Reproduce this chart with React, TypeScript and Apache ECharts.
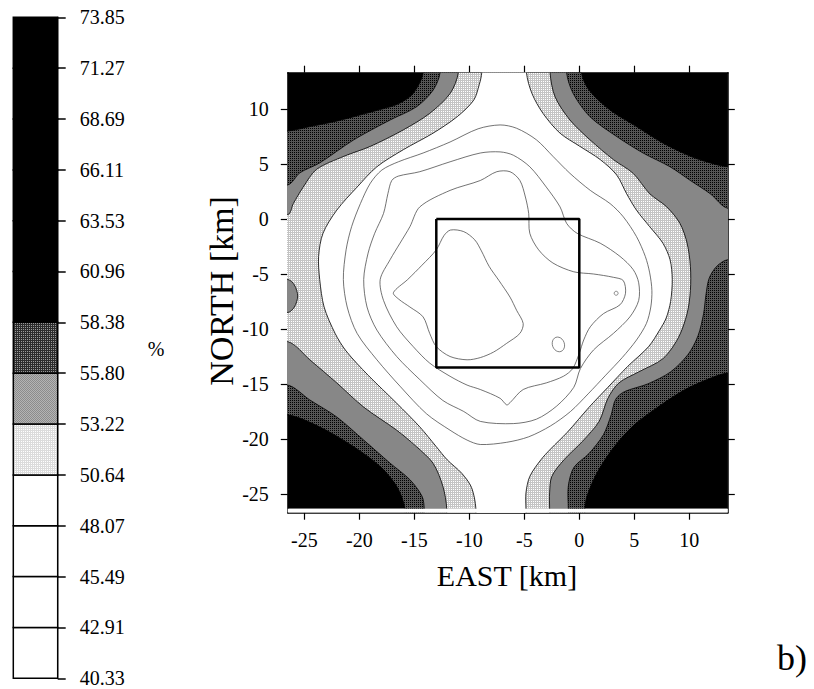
import React, { useEffect, useRef } from "react";
import * as echarts from "echarts";

type P = number[];

// ---------- colour-bar levels (%) ----------
const colorbarLevels = [40.33, 42.91, 45.49, 48.07, 50.64, 53.22, 55.8, 58.38, 60.96, 63.53, 66.11, 68.69, 71.27, 73.85];
// band class for each interval of the bar (0 white, 1 light, 2 gray, 3 dark, 4 black)
const colorbarBandClass = [0, 0, 0, 0, 1, 2, 3, 4, 4, 4, 4, 4, 4];

// ---------- axis ticks (km) ----------
const eastTicks = [-25, -20, -15, -10, -5, 0, 5, 10];
const northTicks = [-25, -20, -15, -10, -5, 0, 5, 10];

// ---------- contour boundaries read from the map (EAST, NORTH km) ----------
// 58.38 % (black / dark)
const c58_TL: P[] = [[-14.2, 13.3], [-14.6, 12.2], [-15.3, 11.2], [-16.6, 10.4], [-18.3, 9.9], [-20.5, 9.3], [-22.5, 8.8], [-24.5, 8.4], [-26.5, 8.0]];
const c58_TR: P[] = [[0.2, 13.3], [0.9, 11.7], [2.8, 9.9], [5.2, 8.4], [7.6, 6.9], [10.1, 5.7], [11.9, 5.1], [13.5, 4.75]];
const c58_BR: P[] = [[13.5, -14.0], [11.6, -14.6], [9.45, -15.6], [7.0, -17.2], [4.9, -18.8], [3.1, -20.8], [1.6, -23.1], [0.7, -25.2], [0.5, -26.35]];
const c58_BL: P[] = [[-15.85, -26.35], [-16.6, -24.3], [-18.1, -22.5], [-20.5, -20.7], [-23.6, -18.9], [-26.5, -17.8]];
// 55.80 % (dark / gray)
const c55_TL: P[] = [[-12.66, 13.3], [-13.3, 11.7], [-14.8, 10.2], [-17.2, 9.0], [-20.5, 7.2], [-23.6, 5.1], [-25.4, 4.2], [-26.5, 3.1]];
const c55_TR: P[] = [[-1.15, 13.3], [-0.55, 11.4], [0.97, 9.3], [3.4, 7.5], [5.8, 6.0], [8.25, 4.75], [10.1, 3.5], [11.9, 2.3], [13.5, 0.97]];
const c55_BR: P[] = [[13.5, -3.7], [12.5, -4.3], [11.8, -5.4], [11.5, -7.0], [11.3, -8.6], [10.8, -10.6], [9.9, -12.3], [8.3, -13.9], [6.2, -15.0], [4.1, -15.7], [3.3, -16.4], [2.9, -17.8], [2.2, -19.6], [0.9, -21.3], [-0.5, -22.6], [-1.0, -24.3], [-1.0, -26.35]];
const c55_BL: P[] = [[-14.1, -26.35], [-14.3, -25.2], [-15.4, -23.7], [-17.2, -22.2], [-19.6, -20.1], [-22.05, -18.0], [-24.5, -16.45], [-26.5, -15.1]];
// 53.22 % (gray / light)
const c53_TL: P[] = [[-11.0, 13.3], [-11.75, 11.4], [-13.6, 9.6], [-16.0, 8.1], [-19.0, 6.6], [-21.4, 5.7], [-23.9, 4.5], [-25.1, 2.9], [-26.0, 1.4], [-26.5, 0.4]];
const c53_R: P[] = [[-2.66, 13.3], [-2.2, 11.1], [-0.85, 9.0], [0.97, 7.2], [3.1, 5.4], [4.9, 4.15], [6.4, 2.3], [7.95, 1.1], [9.15, -0.4], [9.8, -2.2], [10.1, -4.3], [10.1, -6.5], [9.8, -8.6], [9.0, -10.8], [7.6, -12.7], [5.4, -13.9], [3.6, -14.9], [2.6, -16.3], [1.8, -18.4], [0.3, -20.2], [-1.4, -21.9], [-2.5, -23.4], [-2.7, -24.9], [-2.7, -26.35]];
const c53_BL: P[] = [[-12.05, -26.35], [-12.4, -24.3], [-13.3, -22.2], [-14.8, -20.7], [-16.6, -19.2], [-19.6, -17.1], [-22.05, -14.9], [-24.5, -12.8], [-26.5, -11.15]];
const c53_leftBump: P[] = [[-26.5, -5.5], [-25.9, -6.0], [-25.6, -7.0], [-25.9, -8.0], [-26.5, -8.5]];
// 50.64 % (light / white)
const c50_L: P[] = [[-8.87, 13.3], [-9.1, 12.2], [-9.6, 10.8], [-11.1, 9.3], [-13.3, 7.8], [-16.0, 6.3], [-18.4, 4.75], [-20.2, 2.9], [-22.05, 0.8], [-23.3, -1.3], [-23.7, -3.4], [-23.6, -5.5], [-23.2, -8.0], [-22.2, -10.4], [-21.2, -12.0], [-19.2, -14.2], [-16.6, -16.75], [-14.5, -18.9], [-13.0, -20.7], [-12.0, -21.9], [-10.7, -23.1], [-9.8, -24.4], [-9.4, -26.35]];
const c50_R: P[] = [[-4.8, 13.3], [-4.3, 11.4], [-3.3, 9.6], [-1.75, 7.8], [0.06, 6.6], [1.9, 5.4], [3.4, 4.0], [4.3, 2.3], [5.2, 0.8], [6.4, -0.7], [7.6, -2.2], [8.25, -3.7], [8.45, -5.5], [8.3, -7.5], [7.9, -9.0], [7.3, -10.1], [6.3, -11.6], [4.4, -13.4], [2.6, -15.3], [0.9, -17.1], [-1.1, -19.4], [-2.6, -20.9], [-3.5, -21.9], [-4.5, -23.4], [-4.85, -24.9], [-4.85, -26.35]];
// closed iso-lines inside the white area
const c48: P[] = [[-9.2, 8.2], [-7.2, 8.55], [-5.7, 8.25], [-3.9, 7.2], [-2.4, 5.7], [-0.85, 4.15], [1.0, 2.6], [2.8, 1.4], [4.0, 0.2], [5.2, -1.6], [6.0, -3.4], [6.4, -4.9], [6.6, -6.5], [6.5, -8.0], [6.1, -9.5], [5.2, -11.0], [3.9, -12.6], [2.4, -14.2], [0.8, -15.9], [-0.8, -17.5], [-2.6, -18.8], [-4.6, -19.8], [-6.6, -20.3], [-9.0, -20.5], [-10.2, -20.1], [-11.75, -19.2], [-13.9, -17.7], [-16.3, -15.2], [-18.4, -12.8], [-20.2, -10.4], [-21.1, -8.0], [-21.45, -5.5], [-21.2, -2.8], [-20.7, -0.7], [-19.9, 1.4], [-19.0, 3.25], [-17.95, 4.45], [-16.45, 5.2], [-14.2, 6.0], [-11.75, 7.0]];
const c45: P[] = [[-9.0, 6.0], [-7.2, 6.1], [-6.0, 5.8], [-4.5, 4.75], [-3.0, 2.9], [-1.75, 1.1], [-1.15, -0.4], [-0.2, -1.3], [1.9, -2.2], [3.7, -3.4], [4.9, -4.6], [5.4, -5.8], [5.4, -7.4], [4.6, -8.9], [3.1, -10.4], [1.3, -11.9], [0.1, -13.6], [-0.5, -15.3], [-2.05, -17.0], [-3.9, -18.2], [-6.0, -18.6], [-9.0, -18.4], [-10.5, -17.5], [-12.4, -16.5], [-14.5, -14.6], [-16.6, -12.5], [-18.4, -10.1], [-19.3, -8.0], [-19.6, -5.5], [-19.2, -3.1], [-18.6, -1.3], [-17.8, 0.5], [-17.4, 2.3], [-17.05, 3.5], [-16.45, 3.9], [-14.5, 4.3], [-11.75, 5.2]];
const c43: P[] = [[-9.0, 3.5], [-7.5, 4.3], [-6.3, 4.3], [-5.4, 3.5], [-4.9, 2.0], [-4.6, 0.5], [-4.5, -1.3], [-3.7, -2.8], [-2.4, -4.0], [-0.5, -4.8], [1.3, -5.0], [3.1, -5.3], [4.0, -5.6], [4.2, -6.75], [3.7, -7.8], [2.2, -8.6], [1.0, -9.8], [0.4, -11.0], [0.0, -12.2], [-0.6, -13.6], [-1.45, -14.3], [-3.0, -14.9], [-5.1, -15.5], [-6.3, -16.7], [-6.6, -16.9], [-7.2, -16.3], [-9.0, -15.5], [-10.2, -15.1], [-11.75, -14.3], [-13.6, -13.1], [-15.1, -11.6], [-16.6, -9.8], [-17.8, -7.4], [-18.1, -5.5], [-17.2, -3.7], [-16.3, -2.2], [-15.4, -0.7], [-14.5, 1.1], [-11.75, 2.6]];
const c40: P[] = [[-16.9, -6.7], [-15.6, -5.5], [-14.3, -4.2], [-13.0, -2.8], [-12.3, -1.5], [-11.7, -1.0], [-10.5, -1.15], [-9.5, -1.9], [-8.9, -2.9], [-8.2, -4.3], [-7.3, -5.6], [-6.3, -7.1], [-5.7, -8.3], [-5.1, -9.5], [-5.4, -10.4], [-6.6, -11.3], [-7.8, -12.1], [-9.0, -12.6], [-10.2, -12.8], [-11.75, -12.5], [-13.0, -11.6], [-13.6, -10.4], [-14.2, -8.9], [-15.4, -8.0], [-16.4, -7.3]];
const smallLoop: P[] = [[-1.9, -11.4]];
const tinyLoop: P[] = [[3.35, -6.75]];
// study area square
const squareOutline: P[] = [[-13, 0], [0, 0], [0, -13.5], [-13, -13.5], [-13, 0]];

// ---------- styling ----------
const FONT = "Liberation Serif, Times New Roman, serif";
const X_MIN = -26.5, X_MAX = 13.5, Y_MIN = -26.7, Y_MAX = 13.3;
const DATA_BOTTOM = -26.35;
const OUT_T = 17, OUT_B = -31, OUT_L = -31, OUT_R = 18;

const rev = (a: P[]) => a.slice().reverse();
const last = (a: P[]) => a[a.length - 1];
const toTop = (p: P): P => [p[0], OUT_T];
const toBottom = (p: P): P => [p[0], OUT_B];
const toLeft = (p: P): P => [OUT_L, p[1]];
const toRight = (p: P): P => [OUT_R, p[1]];

const below58: P[] = [
  ...rev(c58_TL), toTop(c58_TL[0]), toTop(c58_TR[0]),
  ...c58_TR, toRight(last(c58_TR)), toRight(c58_BR[0]),
  ...c58_BR, toBottom(last(c58_BR)), toBottom(c58_BL[0]),
  ...c58_BL, toLeft(last(c58_BL)), toLeft(last(c58_TL)),
];
const below55: P[] = [
  ...rev(c55_TL), toTop(c55_TL[0]), toTop(c55_TR[0]),
  ...c55_TR, toRight(last(c55_TR)), toRight(c55_BR[0]),
  ...c55_BR, toBottom(last(c55_BR)), toBottom(c55_BL[0]),
  ...c55_BL, toLeft(last(c55_BL)), toLeft(last(c55_TL)),
];
const below53: P[] = [
  ...rev(c53_TL), toTop(c53_TL[0]), toTop(c53_R[0]),
  ...c53_R, toBottom(last(c53_R)), toBottom(c53_BL[0]),
  ...c53_BL, toLeft(last(c53_BL)), toLeft(last(c53_leftBump)),
  ...rev(c53_leftBump), toLeft(c53_leftBump[0]), toLeft(last(c53_TL)),
];
const below50: P[] = [
  ...c50_R, toBottom(last(c50_R)), toBottom(last(c50_L)),
  ...rev(c50_L), toTop(c50_L[0]), toTop(c50_R[0]),
];

// tiny repeating pixel tiles that imitate the dotted shading of the original
function makeTile(rows: string[][]): any {
  const c = document.createElement("canvas");
  const h = rows.length, w = rows[0].length;
  c.width = w; c.height = h;
  const ctx = c.getContext("2d")!;
  rows.forEach((row, y) => row.forEach((col, x) => { ctx.fillStyle = col; ctx.fillRect(x, y, 1, 1); }));
  return { image: c.toDataURL(), repeat: "repeat", imageWidth: w, imageHeight: h };
}

function areaSeries(pts: P[], fill: any, z: number, stroke = "#000", smooth = 0.3, lineWidth = 0.8) {
  return {
    type: "custom",
    xAxisIndex: 0,
    yAxisIndex: 0,
    clip: true,
    silent: true,
    z,
    data: pts,
    renderItem: (params: any, api: any) => {
      if (params.dataIndex !== 0) return { type: "group", children: [] };
      const points = pts.map((p) => api.coord(p));
      return {
        type: "polygon",
        shape: { points, smooth },
        style: { fill, stroke, lineWidth },
      };
    },
  };
}

function rectSeries(x0: number, y0: number, x1: number, y1: number, fill: string, z: number) {
  return {
    type: "custom",
    xAxisIndex: 0,
    yAxisIndex: 0,
    clip: true,
    silent: true,
    z,
    data: [[x0, y0, x1, y1]],
    renderItem: (_p: any, api: any) => {
      const a = api.coord([api.value(0), api.value(3)]);
      const b = api.coord([api.value(2), api.value(1)]);
      return { type: "rect", shape: { x: a[0], y: a[1], width: b[0] - a[0], height: b[1] - a[1] }, style: { fill } };
    },
  };
}

function textEl(text: string, x: number, y: number, size: number, align: string, vAlign: string, rotation = 0) {
  return {
    type: "text", x, y, rotation,
    style: { text, fontFamily: FONT, fontSize: size, fill: "#000", align, verticalAlign: vAlign },
  };
}

export default function App() {
  const ref = useRef<HTMLDivElement>(null);
  useEffect(() => {
    if (!ref.current) return;
    const chart = echarts.init(ref.current, null, { renderer: "svg" });

    const K = "#000000";
    const G = "#555555";
    const darkTile = makeTile([[K, G], [G, G]]);
    const lightTile = makeTile([["#c4c4c4", "#c4c4c4"], ["#c4c4c4", "#ffffff"]]);
    const barDarkTile = makeTile([["#2c2c2c", "#2c2c2c"], ["#2c2c2c", "#9a9a9a"]]);
    const barGrayTile = makeTile([["#8c8c8c", "#b4b4b4"], ["#b4b4b4", "#8c8c8c"]]);
    const barLightTile = makeTile([["#dcdcdc", "#dcdcdc"], ["#dcdcdc", "#ffffff"]]);
    const mapFill: any[] = ["#ffffff", lightTile, "#878787", darkTile, "#000000"];
    const barFill: any[] = ["#ffffff", barLightTile, barGrayTile, barDarkTile, "#000000"];

    const axisLine = { show: true, onZero: false, lineStyle: { color: "#000", width: 1.5 } };
    const tickStyle = { color: "#000", width: 1.2 };
    const labelStyle = { fontSize: 20, fontFamily: FONT, color: "#000" };

    const bandData = colorbarBandClass.map((c, i) => [colorbarLevels[i], colorbarLevels[i + 1], c]);

    chart.setOption({
      animation: false,
      backgroundColor: "#ffffff",
      textStyle: { fontFamily: FONT },
      grid: [
        { left: 287.8, top: 72.7, width: 440, height: 440 },
        { left: 13.3, top: 17.3, width: 44.4, height: 661 },
      ],
      xAxis: [
        {
          gridIndex: 0, type: "value", min: X_MIN, max: X_MAX, position: "bottom",
          axisLine, splitLine: { show: false },
          axisTick: { show: true, customValues: eastTicks, length: 7, lineStyle: tickStyle },
          axisLabel: { customValues: eastTicks, margin: 17, ...labelStyle },
        },
        {
          gridIndex: 0, type: "value", min: X_MIN, max: X_MAX, position: "top",
          axisLine, splitLine: { show: false },
          axisTick: { show: true, customValues: eastTicks, length: 7, lineStyle: tickStyle },
          axisLabel: { show: false },
        },
        { gridIndex: 1, type: "value", min: 0, max: 1, show: false },
      ],
      yAxis: [
        {
          gridIndex: 0, type: "value", min: Y_MIN, max: Y_MAX, position: "left",
          axisLine, splitLine: { show: false },
          axisTick: { show: true, customValues: northTicks, length: 7, lineStyle: tickStyle },
          axisLabel: { customValues: northTicks, margin: 19, ...labelStyle },
        },
        {
          gridIndex: 0, type: "value", min: Y_MIN, max: Y_MAX, position: "right",
          axisLine, splitLine: { show: false },
          axisTick: { show: true, customValues: northTicks, length: 7, lineStyle: tickStyle },
          axisLabel: { show: false },
        },
        {
          gridIndex: 1, type: "value", min: colorbarLevels[0], max: colorbarLevels[colorbarLevels.length - 1],
          position: "right",
          axisLine: { show: true, onZero: false, lineStyle: { color: "#000", width: 1.2 } },
          splitLine: { show: false },
          axisTick: { show: true, customValues: colorbarLevels, length: 8, lineStyle: { color: "#000", width: 1.5 } },
          axisLabel: { customValues: colorbarLevels, margin: 22, formatter: (v: number) => v.toFixed(2), ...labelStyle },
        },
      ],
      series: [
        rectSeries(X_MIN, DATA_BOTTOM, X_MAX, Y_MAX, "#000000", 1),
        areaSeries(below58, mapFill[3], 2),
        areaSeries(below55, mapFill[2], 3),
        areaSeries(below53, mapFill[1], 4),
        areaSeries(below50, mapFill[0], 5),
        areaSeries(c48, "none", 6, "#444444", 0.3, 0.75),
        areaSeries(c45, "none", 6, "#444444", 0.3, 0.75),
        areaSeries(c43, "none", 6, "#444444", 0.3, 0.75),
        areaSeries(c40, "none", 6, "#444444", 0.3, 0.75),
        {
          type: "scatter", xAxisIndex: 0, yAxisIndex: 0, z: 7, silent: true,
          data: smallLoop, symbol: "circle", symbolSize: [12, 15], symbolRotate: 20,
          itemStyle: { color: "rgba(0,0,0,0)", borderColor: "#444444", borderWidth: 0.75 },
        },
        {
          type: "scatter", xAxisIndex: 0, yAxisIndex: 0, z: 7, silent: true,
          data: tinyLoop, symbol: "circle", symbolSize: 4,
          itemStyle: { color: "rgba(0,0,0,0)", borderColor: "#444444", borderWidth: 0.75 },
        },
        rectSeries(X_MIN, Y_MIN, X_MAX, DATA_BOTTOM, "#ffffff", 8),
        {
          type: "line", xAxisIndex: 0, yAxisIndex: 0, z: 9, silent: true,
          data: squareOutline, symbol: "none",
          lineStyle: { color: "#000", width: 2.5 },
        },
        {
          type: "custom", xAxisIndex: 2, yAxisIndex: 2, z: 2, silent: true,
          data: bandData,
          renderItem: (_p: any, api: any) => {
            const a = api.coord([0, api.value(1)]);
            const b = api.coord([1, api.value(0)]);
            return {
              type: "rect",
              shape: { x: a[0], y: a[1], width: b[0] - a[0], height: b[1] - a[1] },
              style: { fill: barFill[api.value(2)], stroke: "#000", lineWidth: 1.5 },
            };
          },
        },
      ],
      graphic: [
        textEl("%", 156, 349, 20, "center", "middle"),
        textEl("EAST [km]", 507, 575, 30, "center", "middle"),
        textEl("NORTH [km]", 221, 291, 34, "center", "middle", Math.PI / 2),
        textEl("b)", 777, 676, 36, "left", "bottom"),
      ],
    });
    return () => chart.dispose();
  }, []);
  return <div ref={ref} style={{ position: "fixed", left: 0, top: 0, width: 814, height: 689 }} />;
}
